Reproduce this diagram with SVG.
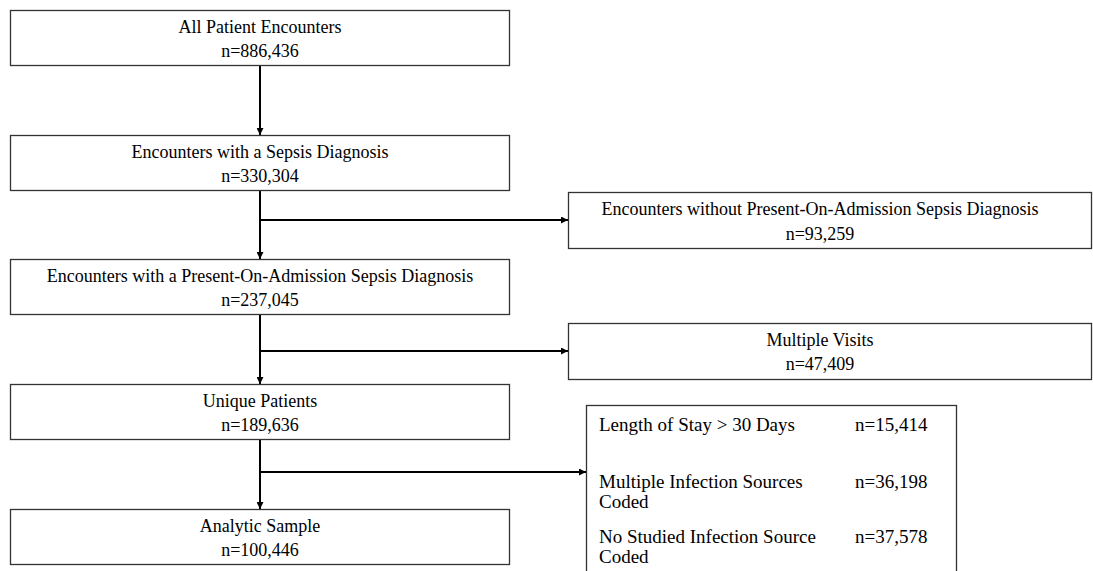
<svg xmlns="http://www.w3.org/2000/svg" width="1093" height="571" viewBox="0 0 1093 571">
<style>
.box{fill:#fff;stroke:#333;stroke-width:1.3}
.t{font-family:"Liberation Serif","Times New Roman",serif;font-size:18px;fill:#000}
.s{font-size:19px}
.c{text-anchor:middle}
.ln{stroke:#000;stroke-width:2;fill:none}
</style>
<defs>
<marker id="ah" viewBox="0 0 10 10" refX="10" refY="5" markerWidth="7" markerHeight="7" markerUnits="userSpaceOnUse" orient="auto">
<path d="M0,0 L10,5 L0,10 z" fill="#000"/>
</marker>
</defs>
<rect width="1093" height="571" fill="#fff"/>
<g id="connectors">
<line class="ln" x1="260" y1="65" x2="260" y2="135" marker-end="url(#ah)"/>
<line class="ln" x1="260" y1="190" x2="260" y2="259" marker-end="url(#ah)"/>
<line class="ln" x1="260" y1="314" x2="260" y2="384" marker-end="url(#ah)"/>
<line class="ln" x1="260" y1="439" x2="260" y2="509" marker-end="url(#ah)"/>
<line class="ln" x1="259" y1="220" x2="568" y2="220" marker-end="url(#ah)"/>
<line class="ln" x1="259" y1="351" x2="568" y2="351" marker-end="url(#ah)"/>
<line class="ln" x1="259" y1="472" x2="586" y2="472" marker-end="url(#ah)"/>
</g>
<g id="n1"><rect class="box" x="10.5" y="10.5" width="499" height="55"/>
<text class="t c" x="260" y="33">All Patient Encounters</text><text class="t c" x="260" y="57">n=886,436</text></g>
<g id="n2"><rect class="box" x="10.5" y="135.5" width="499" height="55"/>
<text class="t c" x="260" y="158">Encounters with a Sepsis Diagnosis</text><text class="t c" x="260" y="182">n=330,304</text></g>
<g id="n3"><rect class="box" x="10.5" y="259.5" width="499" height="55"/>
<text class="t c" x="260" y="282">Encounters with a Present-On-Admission Sepsis Diagnosis</text><text class="t c" x="260" y="306">n=237,045</text></g>
<g id="n4"><rect class="box" x="10.5" y="384.5" width="499" height="55"/>
<text class="t c" x="260" y="407">Unique Patients</text><text class="t c" x="260" y="431">n=189,636</text></g>
<g id="n5"><rect class="box" x="10.5" y="509.5" width="499" height="55"/>
<text class="t c" x="260" y="532">Analytic Sample</text><text class="t c" x="260" y="556">n=100,446</text></g>
<g id="nA"><rect class="box" x="568.5" y="192.5" width="523" height="56"/>
<text class="t c" x="820" y="215">Encounters without Present-On-Admission Sepsis Diagnosis</text><text class="t c" x="820" y="240">n=93,259</text></g>
<g id="nB"><rect class="box" x="568.5" y="323.5" width="523" height="56"/>
<text class="t c" x="820" y="346">Multiple Visits</text><text class="t c" x="820" y="370">n=47,409</text></g>
<g id="nC"><rect class="box" x="586.5" y="405.5" width="370" height="180"/>
<text class="t s" x="599" y="431">Length of Stay &gt; 30 Days</text><text class="t s" x="855" y="431">n=15,414</text>
<text class="t s" x="599" y="488">Multiple Infection Sources</text><text class="t s" x="599" y="508">Coded</text><text class="t s" x="855" y="488">n=36,198</text>
<text class="t s" x="599" y="543">No Studied Infection Source</text><text class="t s" x="599" y="563">Coded</text><text class="t s" x="855" y="543">n=37,578</text></g>
</svg>
